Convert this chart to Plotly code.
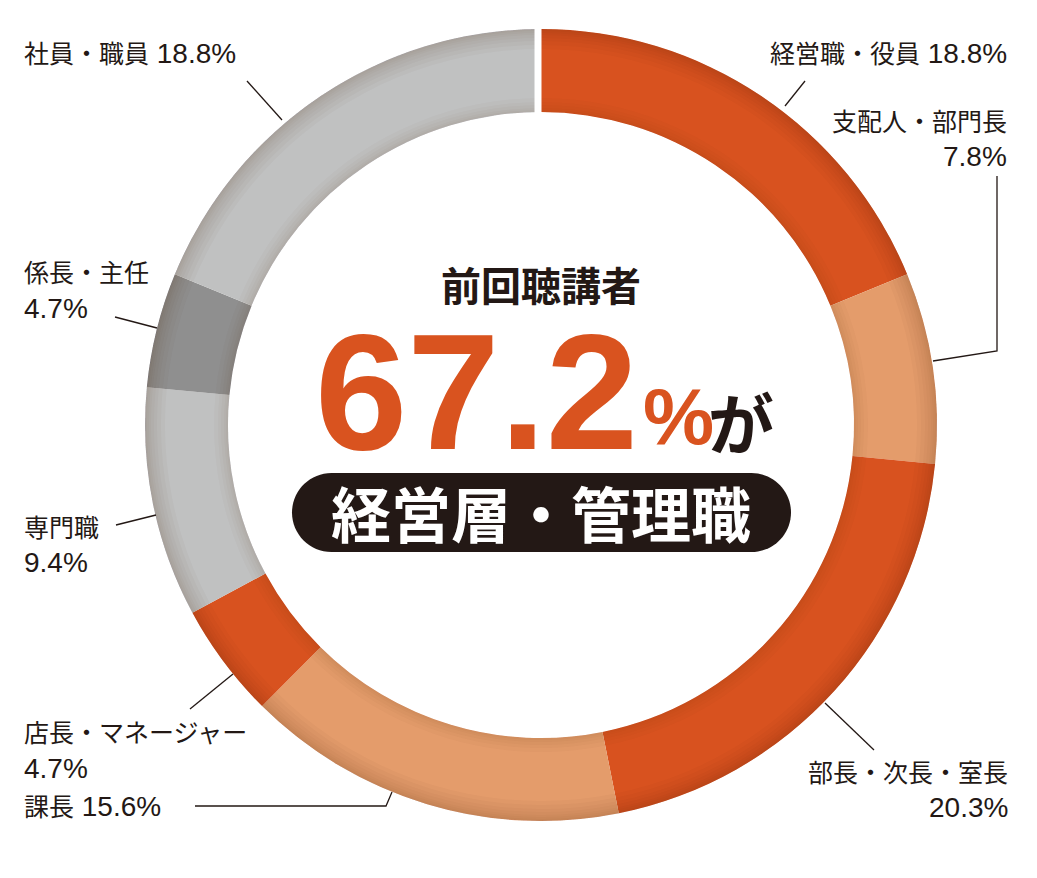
import plotly.graph_objects as go

W, H = 1037, 878
CX, CY = 541, 425
R_OUT, R_IN = 396, 313

categories = ["経営職・役員", "支配人・部門長", "部長・次長・室長", "課長",
              "店長・マネージャー", "専門職", "係長・主任", "社員・職員"]
values = [18.8, 7.8, 20.3, 15.6, 4.7, 9.4, 4.7, 18.8]
colors = ["#D8521F", "#E49C6B", "#D8521F", "#E49C6B",
          "#D8521F", "#C0C1C1", "#8F8F8F", "#C0C1C1"]
value_labels = ["18.8%", "7.8%", "20.3%", "15.6%", "4.7%", "9.4%", "4.7%", "18.8%"]

headline_title = "前回聴講者"
headline_value = "67.2"
headline_unit = "%"
headline_suffix = "が"
headline_badge = "経営層・管理職"

INK = "#231815"
ORANGE = "#D9531F"
LABEL_FONT = "Liberation Sans, Noto Sans CJK JP, sans-serif"
CJK_BOLD = "Noto Sans CJK JP, sans-serif"


def dom(r):
    return dict(x=[(CX - r) / W, (CX + r) / W], y=[1 - (CY + r) / H, 1 - (CY - r) / H])


fig = go.Figure()
fig.add_trace(go.Scatter(x=[0, W], y=[0, H], mode="markers",
                         marker=dict(opacity=0), hoverinfo="skip", showlegend=False))

fig.add_trace(go.Pie(
    labels=categories, values=values, sort=False, direction="clockwise", rotation=0,
    hole=R_IN / R_OUT, domain=dom(R_OUT), marker=dict(colors=colors, line=dict(width=0)),
    textinfo="none", hoverinfo="label+percent", showlegend=False,
))

# soft edge shading bands (outer and inner rims)
bands = [(R_OUT, R_OUT - w, 0.028) for w in (2, 4, 6, 9, 12, 16, 20)] + \
        [(R_IN + w, R_IN, 0.025) for w in (2, 4, 7, 10, 14)]
for ro, ri, a in bands:
    fig.add_trace(go.Pie(values=[1], labels=["shade"], sort=False, hole=ri / ro, domain=dom(ro),
                         marker=dict(colors=[f"rgba(70,25,5,{a})"], line=dict(width=0)),
                         textinfo="none", hoverinfo="skip", showlegend=False))

shapes = []
shapes.append(dict(type="line", xref="x", yref="y", x0=538, x1=538, y0=24, y1=113,
                   line=dict(color="white", width=7), layer="above"))

leaders = [
    [(785, 106), (805, 81)],
    [(933, 361), (997, 351), (997, 176)],
    [(825, 703), (874, 750)],
    [(392, 792), (386, 806), (195, 806)],
    [(233, 674), (190, 709)],
    [(156, 515), (116, 525)],
    [(157, 328), (115, 317)],
    [(282, 120), (247, 81)],
]
for pts in leaders:
    path = "M " + " L ".join(f"{x},{y}" for x, y in pts)
    shapes.append(dict(type="path", xref="x", yref="y", path=path,
                       line=dict(color=INK, width=1.3), layer="above"))

x0, x1, y0, y1 = 292, 791, 473, 552
rr = (y1 - y0) / 2
k = 0.5523 * rr
ym = (y0 + y1) / 2
badge = (f"M {x0+rr},{y0} L {x1-rr},{y0} "
         f"C {x1-rr+k},{y0} {x1},{ym-k} {x1},{ym} "
         f"C {x1},{ym+k} {x1-rr+k},{y1} {x1-rr},{y1} "
         f"L {x0+rr},{y1} "
         f"C {x0+rr-k},{y1} {x0},{ym+k} {x0},{ym} "
         f"C {x0},{ym-k} {x0+rr-k},{y0} {x0+rr},{y0} Z")
shapes.append(dict(type="path", xref="x", yref="y", path=badge,
                   fillcolor=INK, line=dict(width=0), layer="above"))

ann = []


def cjk(s):
    return f'<span style="font-size:25px">{s}</span>'


def label(text, x, y, anchor):
    ann.append(dict(text=text, x=x, y=y, xref="x", yref="y", xanchor=anchor, yanchor="middle",
                    showarrow=False, font=dict(family=LABEL_FONT, size=28, color=INK)))


label(f"{cjk(categories[0])} {value_labels[0]}", 1009, 53, "right")
label(cjk(categories[1]), 1009, 122, "right")
label(value_labels[1], 1009, 156, "right")
label(cjk(categories[2]), 1010, 773, "right")
label(value_labels[2], 1010, 807, "right")
label(f"{cjk(categories[3])} {value_labels[3]}", 22, 806, "left")
label(cjk(categories[4]), 22, 733, "left")
label(value_labels[4], 22, 768, "left")
label(cjk(categories[5]), 22, 528, "left")
label(value_labels[5], 22, 562, "left")
label(cjk(categories[6]), 22, 273, "left")
label(value_labels[6], 22, 308, "left")
label(f"{cjk(categories[7])} {value_labels[7]}", 22, 53, "left")

ann.append(dict(text=f"<b>{headline_title}</b>", x=541, y=284, xref="x", yref="y",
                xanchor="center", yanchor="middle", showarrow=False,
                font=dict(family=CJK_BOLD, size=40, color=INK)))
ann.append(dict(text=f"<b>{headline_value}</b>", x=640, y=391, xref="x", yref="y",
                xanchor="right", yanchor="middle", showarrow=False, height=132,
                font=dict(family="Liberation Sans, Arial, sans-serif", size=166, color=ORANGE)))
ann.append(dict(text=f"<b>{headline_unit}</b>", x=641, y=416, xref="x", yref="y",
                xanchor="left", yanchor="middle", showarrow=False, height=66,
                font=dict(family="Liberation Sans, Arial, sans-serif", size=80, color=ORANGE)))
ann.append(dict(text=f"<b>{headline_suffix}</b>", x=706, y=420, xref="x", yref="y",
                xanchor="left", yanchor="middle", showarrow=False,
                font=dict(family=CJK_BOLD, size=66, color=INK)))
ann.append(dict(text=f"<b>{headline_badge}</b>", x=541, y=511, xref="x", yref="y",
                xanchor="center", yanchor="middle", showarrow=False,
                font=dict(family=CJK_BOLD, size=60, color="white")))

fig.update_layout(
    width=W, height=H, margin=dict(l=0, r=0, t=0, b=0),
    paper_bgcolor="white", plot_bgcolor="white",
    xaxis=dict(range=[0, W], visible=False, fixedrange=True),
    yaxis=dict(range=[H, 0], visible=False, fixedrange=True),
    shapes=shapes, annotations=ann, showlegend=False,
)

fig.write_html("out.html")
